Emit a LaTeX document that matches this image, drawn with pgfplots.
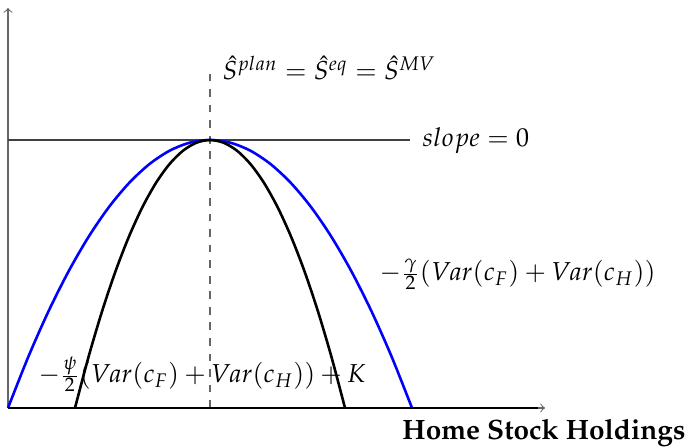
\documentclass[border=0pt]{standalone}
\usepackage[T1]{fontenc}
\usepackage{mathpazo}
\usepackage{pgfplots}
\pgfplotsset{compat=1.18}

% one data unit = one drawing unit
\newlength{\du}
\setlength{\du}{0.3858pt}

\begin{document}
\begin{tikzpicture}
\begin{axis}[
  x=\du, y=\du,
  xmin=0, xmax=537, ymin=0, ymax=400,
  axis lines=left,
  axis line style={->, black!60, line width=0.4pt},
  xtick=\empty, ytick=\empty,
  clip=false,
]
% flat line at the common optimum
\addplot[black!75, line width=0.4pt] coordinates {(0,268) (402,268)};
% vertical marker through the optimum
\addplot[black!60, dashed, line width=0.4pt] coordinates {(202,0) (202,338)};
% blue: mean-variance objective
\addplot[blue, line width=1pt, smooth] coordinates {
  (0,0) (20.2,50.92) (40.4,96.48) (60.6,136.68) (80.8,171.52) (101,201)
  (121.2,225.12) (141.4,243.88) (161.6,257.28) (181.8,265.32) (202,268)
  (222.2,265.32) (242.4,257.28) (262.6,243.88) (282.8,225.12) (303,201)
  (323.2,171.52) (343.4,136.68) (363.6,96.48) (383.8,50.92) (404,0)};
% black: objective with the extra term
\addplot[black, line width=1pt, smooth] coordinates {
  (67,0) (80.5,50.92) (94,96.48) (107.5,136.68) (121,171.52) (134.5,201)
  (148,225.12) (161.5,243.88) (175,257.28) (188.5,265.32) (202,268)
  (215.5,265.32) (229,257.28) (242.5,243.88) (256,225.12) (269.5,201)
  (283,171.52) (296.5,136.68) (310,96.48) (323.5,50.92) (337,0)};
% x axis drawn solid black
\addplot[black, line width=0.4pt] coordinates {(0,0) (530,0)};

\node[anchor=base west, inner sep=0pt] at (axis cs:214,328)
  {$\hat{S}^{plan}=\hat{S}^{eq}=\hat{S}^{MV}$};
\node[anchor=base west, inner sep=0pt] at (axis cs:414,261) {$slope=0$};
\node[anchor=base west, inner sep=0pt] at (axis cs:371,127)
  {$-\frac{\gamma}{2}(Var(c_F)+Var(c_H))$};
\node[anchor=base west, inner sep=0pt] at (axis cs:30,25)
  {$-\frac{\psi}{2}(Var(c_F)+Var(c_H))+K$};
\node[anchor=base east, inner sep=0pt] at (axis cs:678,-32)
  {\fontsize{10.8}{13}\selectfont\bfseries Home Stock Holdings};
\coordinate (o) at (axis cs:0,0);
\end{axis}
\path (o) ++(-8\du,0) coordinate (bl);
\path[use as bounding box] (bl) ++(0,-40\du) rectangle ++(687\du,448\du);
\end{tikzpicture}
\end{document}
